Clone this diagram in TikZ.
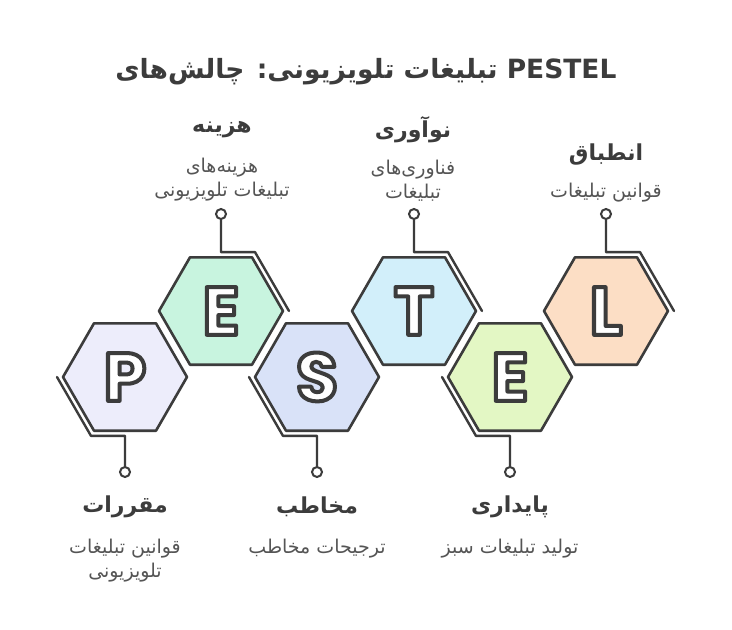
\documentclass[tikz,border=0pt]{standalone}
\usepackage{fontspec}
\setmainfont{DejaVu Sans}
\newfontfamily\arabicfont[Script=Arabic]{DejaVu Sans}
\newfontfamily\letterfont{Poppins}
\TeXXeTstate=1
\usetikzlibrary{calc}
\definecolor{edge}{HTML}{3C3C3C}
\definecolor{subc}{HTML}{555555}
\definecolor{cP}{HTML}{EDEDFB}
\definecolor{cE}{HTML}{C8F4DF}
\definecolor{cS}{HTML}{D9E2F8}
\definecolor{cT}{HTML}{D2EFFA}
\definecolor{cEE}{HTML}{E3F7C4}
\definecolor{cL}{HTML}{FCDEC5}
\newcommand\outl[1]{%
 \special{pdf:literal direct 2 Tr 4 w 1 j 0.235 G 1 g}#1\special{pdf:literal direct 0 Tr}}
\tikzset{
  hexborder/.style={draw=edge, line width=2.6pt, line join=round},
  outerline/.style={draw=edge, line width=2.4pt, line join=round, line cap=round},
  pinc/.style={circle, draw=edge, fill=white, line width=2pt, inner sep=0pt, minimum size=10pt},
  letter/.style={font=\letterfont\bfseries\fontsize{68}{68}\selectfont, inner sep=0pt},
  head/.style={font=\arabicfont\bfseries\fontsize{22}{26}\selectfont, text=edge},
  sub/.style={font=\arabicfont\fontsize{19}{24}\selectfont, text=subc, align=center},
  ttl/.style={font=\arabicfont\bfseries\fontsize{26.5}{30}\selectfont, text=edge}
}
% #1 name, #2 cx, #3 cy, #4 fill, #5 letter, #6 pin y
\newcommand\hexshape[5]{%
 \draw[hexborder, fill=#4] (#2-62,#3) -- (#2-31,#3-53.7) -- (#2+31,#3-53.7) -- (#2+62,#3)
   -- (#2+31,#3+53.7) -- (#2-31,#3+53.7) -- cycle;
 \node[letter] (#1) at (#2,#3) {\outl{#5}};}
\newcommand\tophex[6]{%
 \hexshape{#1}{#2}{#3}{#4}{#5}
 \node[pinc] (#1pin) at (#2,#6) {};
 \draw[outerline] (#1pin.south) -- (#2,#3-58.9) -- (#2+34,#3-58.9) -- (#2+68,#3);}
\newcommand\bothex[6]{%
 \hexshape{#1}{#2}{#3}{#4}{#5}
 \node[pinc] (#1pin) at (#2,#6) {};
 \draw[outerline] (#1pin.north) -- (#2,#3+58.9) -- (#2-34,#3+58.9) -- (#2-68,#3);}
\begin{document}
\begin{tikzpicture}[x=1pt,y=-1pt]
\useasboundingbox[fill=white] (0,0) rectangle (732,630);
\node[ttl] (title) at (366,72) {\beginR\beginL PESTEL\endL{} تبلیغات تلویزیونی: چالش‌های\endR};

\bothex{p}{125}{377}{cP}{P}{472}
\tophex{e}{221}{311}{cE}{E}{214}
\bothex{s}{317}{377}{cS}{S}{472}
\tophex{t}{414}{311}{cT}{T}{214}
\bothex{ee}{510}{377}{cEE}{E}{472}
\tophex{l}{606}{311}{cL}{L}{214}

\node[head] (he) at (222,130) {\beginR هزینه\endR};
\node[sub] (se) at (222,180) {\beginR هزینه‌های\endR\\\beginR تبلیغات تلویزیونی\endR};
\node[head] (ht) at (413,130) {\beginR نوآوری\endR};
\node[sub] (st) at (413,181) {\beginR فناوری‌های\endR\\\beginR تبلیغات\endR};
\node[head] (hl) at (606,155) {\beginR انطباق\endR};
\node[sub] (sl) at (606,193) {\beginR قوانین تبلیغات\endR};

\node[head] (hp) at (125,507) {\beginR مقررات\endR};
\node[sub] (sp) at (125,561) {\beginR قوانین تبلیغات\endR\\\beginR تلویزیونی\endR};
\node[head] (hs) at (317,507) {\beginR مخاطب\endR};
\node[sub] (ss) at (317,549) {\beginR ترجیحات مخاطب\endR};
\node[head] (hee) at (510,507) {\beginR پایداری\endR};
\node[sub] (see) at (510,549) {\beginR تولید تبلیغات سبز\endR};
\end{tikzpicture}
\end{document}
